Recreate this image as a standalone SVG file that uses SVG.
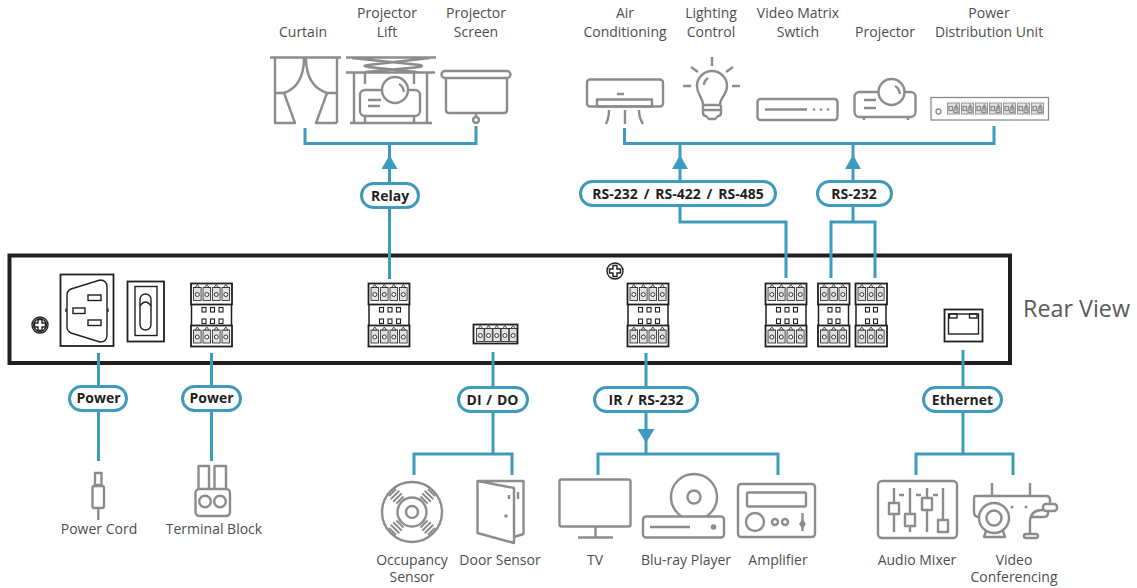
<svg xmlns="http://www.w3.org/2000/svg" xmlns:xlink="http://www.w3.org/1999/xlink" width="1137" height="588" viewBox="0 0 1137 588">
<style>
text{font-family:"Open Sans","Noto Sans","Liberation Sans",sans-serif}
.l{font-size:14px;fill:#4d4d4f;text-anchor:middle}
.b{font-size:14px;font-weight:700;fill:#231f20;text-anchor:middle}
.w{fill:none;stroke:#3f9bbd;stroke-width:3}
.p{fill:#fff;stroke:#3f9bbd;stroke-width:3}
.a{fill:#3f9bbd}
.i,.i *{fill:none;stroke:#8c8c8f;stroke-width:2.4;stroke-linejoin:round}
.i .f{fill:#fff}
.i .d{fill:#8c8c8f;stroke:none}
.k{fill:none;stroke:#231f20;stroke-width:1.4}
.kw{fill:#fff;stroke:#231f20;stroke-width:1.5}
.t{fill:#fff;stroke:#231f20;stroke-width:1.8}
.c{fill:#e2e2e2;stroke:#231f20;stroke-width:.8}
.o{fill:#fff;stroke:#231f20;stroke-width:.9}
.s{fill:#fff;stroke:#231f20;stroke-width:1.1}
.q{fill:none;stroke:#8c8c8f;stroke-width:1.3}
.qf{fill:#e4e4e4;stroke:#8c8c8f;stroke-width:.9}
</style>
<defs>
<g id="cell"><rect class="c" x="0" y="5" width="7.6" height="13"/><path class="c" d="M1.5 5 L3.8 2 L6.1 5Z"/><circle class="o" cx="3.8" cy="12" r="2"/></g>
<g id="tb4">
<rect class="kw" x="1.5" y="20" width="40" height="24"/>
<rect class="t" x="1" y="1" width="41" height="21"/><rect class="t" x="1" y="43" width="41" height="21"/>
<use xlink:href="#cell" x="3.5" y="0"/><use xlink:href="#cell" x="13" y="0"/><use xlink:href="#cell" x="22.5" y="0"/><use xlink:href="#cell" x="32" y="0"/>
<use xlink:href="#cell" x="3.5" y="42.5"/><use xlink:href="#cell" x="13" y="42.5"/><use xlink:href="#cell" x="22.5" y="42.5"/><use xlink:href="#cell" x="32" y="42.5"/>
<rect class="s" x="12" y="25" width="4" height="4.5"/><rect class="s" x="20.5" y="25" width="4" height="4.5"/><rect class="s" x="29" y="25" width="4" height="4.5"/>
<rect class="s" x="12" y="36.500" width="4" height="4.500"/><rect class="s" x="20.500" y="36.500" width="4" height="4.500"/><rect class="s" x="29" y="36.500" width="4" height="4.500"/>
</g>
<g id="tb3">
<rect class="kw" x="1.5" y="20" width="30" height="24"/>
<rect class="t" x="1" y="1" width="31.500" height="21"/><rect class="t" x="1" y="43" width="31.500" height="21"/>
<use xlink:href="#cell" x="3.500" y="0"/><use xlink:href="#cell" x="12.800" y="0"/><use xlink:href="#cell" x="22" y="0"/>
<use xlink:href="#cell" x="3.500" y="42.500"/><use xlink:href="#cell" x="12.800" y="42.500"/><use xlink:href="#cell" x="22" y="42.500"/>
<rect class="s" x="11" y="25" width="4" height="4.500"/><rect class="s" x="19" y="25" width="4" height="4.500"/>
<rect class="s" x="11" y="36.500" width="4" height="4.500"/><rect class="s" x="19" y="36.500" width="4" height="4.500"/>
</g>
<g id="screw"><circle class="k" r="8" fill="#fff"/><path class="k" stroke-width="1" d="M-2-5.500H2V-2H5.500V2H2V5.500H-2V2H-5.500V-2H-2Z"/></g>
<g id="outlet"><rect class="qf" x="0" y="0" width="12" height="11"/><rect class="q" x="1.500" y="3.500" width="3.500" height="4" stroke-width="1"/><path class="q" d="M7 5 L8.800 1.800 L10.600 5Z" stroke-width="1"/><rect class="q" x="6.500" y="7" width="4" height="2.500" stroke-width="1"/></g>
<g id="vent"><path d="M-5 17H5M-6 20.500H6M-6 24H6M-5 27.500H5" stroke-width="2"/></g>
</defs>

<g id="chassis">
<rect x="9.500" y="255.500" width="1000.500" height="107.500" fill="none" stroke="#231f20" stroke-width="4"/>
<text x="1076.500" y="317" font-size="23.300" fill="#58595b" text-anchor="middle">Rear View</text>
<use xlink:href="#screw" x="40" y="325"/>
<circle class="k" cx="40" cy="325" r="6.300" stroke-width="1"/>
<use xlink:href="#screw" x="615" y="271"/>
</g>
<g id="iec-inlet">
<rect class="t" x="60.500" y="274.500" width="53" height="71.500"/>
<path class="k" d="M71 289 L100 280 Q107 280 107 287 V335 Q107 342 100 342 L71 333 Q67 331 67 327 V295 Q67 291 71 289Z"/>
<rect class="k" x="88" y="295" width="13" height="5.500"/><rect class="k" x="73" y="308" width="12" height="5.500"/><rect class="k" x="88" y="320" width="13" height="5.500"/>
<path class="k" d="M66 308.500V312M108 308.500V312" stroke-width="2"/>
</g>
<g id="power-switch">
<rect class="t" x="127.500" y="281.500" width="36.500" height="60"/>
<rect class="k" x="135" y="286.500" width="22" height="49"/>
<rect class="k" x="140" y="294" width="11" height="36" rx="5.500"/>
<path class="k" d="M140 306 Q145.500 298 151 306"/>
</g>
<use id="tb-power" xlink:href="#tb4" x="190" y="282.500"/>
<use id="tb-relay" xlink:href="#tb4" x="367.500" y="282.500"/>
<use id="tb-ir" xlink:href="#tb4" x="626.500" y="282.500"/>
<use id="tb-serial" xlink:href="#tb4" x="764.500" y="282.500"/>
<use id="tb-rs232a" xlink:href="#tb3" x="817" y="282.500"/>
<use id="tb-rs232b" xlink:href="#tb3" x="854.500" y="282.500"/>
<g id="tb-dido">
<rect class="t" x="473.500" y="324.500" width="44" height="19"/>
<use xlink:href="#cell" x="476.500" y="323.500"/><use xlink:href="#cell" x="484.700" y="323.500"/><use xlink:href="#cell" x="492.900" y="323.500"/><use xlink:href="#cell" x="501.100" y="323.500"/><use xlink:href="#cell" x="509.300" y="323.500"/>
</g>
<g id="rj45">
<rect class="t" x="944.500" y="309.500" width="38" height="32"/>
<rect class="k" x="948.500" y="314" width="30" height="20" stroke="#555"/>
<rect class="k" x="949.500" y="314" width="7.500" height="4"/><rect class="k" x="969.500" y="314" width="7.500" height="4"/>
</g>

<g id="connectors">
<path class="w" d="M305 128V143.500H476V126M389.500 143.500V279"/>
<path class="w" d="M624.500 128V143.500H994V126M680 143.500V222H786V278M853 143.500V222M831 278V222H875V278"/>
<path class="w" d="M98.500 353V461M211.500 353V461"/>
<path class="w" d="M493 352V454M414 475V454H512V475"/>
<path class="w" d="M646 353V454M598 475V454H778V475"/>
<path class="w" d="M963 350V454M916 475V454H1013V475"/>
<path class="a" d="M389.500 155L397.500 169H381.500Z"/><path class="a" d="M680 155L688 169H672Z"/><path class="a" d="M853 155L861 169H845Z"/><path class="a" d="M646 443L637.500 429H654.500Z"/>
</g>

<g id="pill-relay"><rect class="p" x="361.500" y="183.500" width="57" height="24" rx="12"/><text class="b" x="390" y="200.500">Relay</text></g>
<g id="pill-rs-multi"><rect class="p" x="580.500" y="181.500" width="195" height="24" rx="12"/><text class="b" x="678" y="198.500" word-spacing="2.200">RS-232 / RS-422 / RS-485</text></g>
<g id="pill-rs232"><rect class="p" x="817.500" y="181.500" width="74" height="24" rx="12"/><text class="b" x="854" y="198.500">RS-232</text></g>
<g id="pill-power1"><rect class="p" x="69.500" y="386.500" width="57" height="24" rx="12"/><text class="b" x="98.500" y="403">Power</text></g>
<g id="pill-power2"><rect class="p" x="182.500" y="386.500" width="58" height="24" rx="12"/><text class="b" x="211.500" y="403">Power</text></g>
<g id="pill-dido"><rect class="p" x="458.500" y="387.500" width="69" height="24" rx="12"/><text class="b" x="492.500" y="405" word-spacing="1.200">DI / DO</text></g>
<g id="pill-ir"><rect class="p" x="594.500" y="387.500" width="103" height="24" rx="12"/><text class="b" x="646" y="405" word-spacing="1.200">IR / RS-232</text></g>
<g id="pill-ethernet"><rect class="p" x="923.500" y="387.500" width="78" height="24" rx="12"/><text class="b" x="962.500" y="405">Ethernet</text></g>

<g id="curtain"><text class="l" x="303" y="37">Curtain</text><g class="i">
<path d="M270 57.500H341M275 58V123M337 58V123M274 123H295L284 93H275M337 123H316L327 93H337M304 58Q304 86 284 93M306 58Q306 86 327 93"/></g></g>
<g id="projector-lift"><text class="l" x="387" y="18">Projector</text><text class="l" x="387" y="37">Lift</text><g class="i">
<path d="M346 57.500H436M352 58L420 65Q424 66 420 67L365 72M430 58L368 65Q361 66 368 67L417 72M346 72.500H435M354 72V123M427 72V123M350 123H432M365 72V84M414 72V84M365 116V123M414 116V123"/>
<rect x="360" y="90" width="60" height="26" rx="5"/><circle class="f" cx="395" cy="90" r="13"/><path d="M399 84Q403 86 404 92"/><path d="M368 100H381M368 106H380"/></g></g>
<g id="projector-screen"><text class="l" x="476" y="18">Projector</text><text class="l" x="476" y="37">Screen</text><g class="i">
<rect x="441.500" y="71" width="69" height="7" rx="3.500"/><path d="M446 78V110Q446 113 449 113H504Q507 113 507 110V78"/><circle cx="476" cy="120" r="3"/><path d="M476 113V117"/></g></g>
<g id="air-conditioning"><text class="l" x="625" y="18">Air</text><text class="l" x="625" y="37">Conditioning</text><g class="i">
<rect x="587" y="79.500" width="76" height="27" rx="3"/><rect x="597" y="99.500" width="55" height="7"/><path d="M617 94H624M609 110Q609 118 606 124M625 110V124M639 110Q639 118 643 124"/></g></g>
<g id="lighting-control"><text class="l" x="711" y="18">Lighting</text><text class="l" x="711" y="37">Control</text><g class="i">
<path d="M712 57V66M691 67L698 72M733 67L726 72M683 86H691M732 86H740"/><path d="M703 105C703 97 697 95 697 86A15 15 0 1 1 727 86C727 95 720 97 720 105Z"/><path d="M704 85Q704 81 708 78M703 105V113Q703 116 706 116L709 119H715L718 116Q721 116 721 113V105M703 110H721"/></g></g>
<g id="video-matrix-switch"><text class="l" x="798" y="18">Video Matrix</text><text class="l" x="798" y="37">Swtich</text><g class="i">
<rect x="757.500" y="99" width="80" height="21" rx="3"/><path d="M765 109.500H807"/><circle class="d" cx="814" cy="109.500" r="1.300"/><circle class="d" cx="821" cy="109.500" r="1.300"/><circle class="d" cx="828" cy="109.500" r="1.300"/></g></g>
<g id="projector"><text class="l" x="885" y="37">Projector</text><g class="i">
<rect x="854.500" y="92" width="61" height="25" rx="5"/><circle class="f" cx="891.500" cy="92" r="13"/><path d="M895 86Q899 88 900 94M864 100H876M864 108H876M864 117V120M908 117V120"/></g></g>
<g id="power-distribution-unit"><text class="l" x="989" y="18">Power</text><text class="l" x="989" y="37">Distribution Unit</text>
<rect class="q" x="931" y="97.500" width="117.500" height="22.500" fill="#f3f3f3" stroke-width="1.800"/><circle class="q" cx="938.500" cy="111.500" r="2.500"/>
<use xlink:href="#outlet" x="947.500" y="103"/><use xlink:href="#outlet" x="961.500" y="103"/><use xlink:href="#outlet" x="975.500" y="103"/><use xlink:href="#outlet" x="989.500" y="103"/><use xlink:href="#outlet" x="1003.500" y="103"/><use xlink:href="#outlet" x="1017.500" y="103"/><use xlink:href="#outlet" x="1031.500" y="103"/></g>

<g id="power-cord"><text class="l" x="99" y="534">Power Cord</text><g class="i">
<rect x="95" y="473" width="6.500" height="12"/><rect x="92.500" y="486" width="11.500" height="22" rx="2"/><path d="M98.300 508V520"/></g></g>
<g id="terminal-block"><text class="l" x="214" y="534">Terminal Block</text><g class="i">
<path d="M198.500 489V466H209V489M214.500 489V466H226V489"/><rect x="195.500" y="489" width="34.500" height="27" rx="4"/><circle cx="205" cy="501.500" r="5.800"/><circle cx="220" cy="501.500" r="5.800"/></g></g>
<g id="occupancy-sensor"><text class="l" x="412" y="565">Occupancy</text><text class="l" x="412" y="582">Sensor</text><g class="i">
<circle cx="412" cy="512" r="30"/><circle cx="412" cy="512" r="14.500"/><circle cx="412" cy="512" r="6"/>
<use xlink:href="#vent" transform="translate(412 512) rotate(45)"/><use xlink:href="#vent" transform="translate(412 512) rotate(135)"/><use xlink:href="#vent" transform="translate(412 512) rotate(225)"/><use xlink:href="#vent" transform="translate(412 512) rotate(315)"/></g></g>
<g id="door-sensor"><text class="l" x="500" y="565">Door Sensor</text><g class="i">
<path d="M477.500 481H523.500V534L514 537M477.500 481L514 488V543L477.500 533Z"/><path d="M518 492V499M509 495V499"/><circle class="d" cx="506" cy="516" r="1.800"/></g></g>
<g id="tv"><text class="l" x="595" y="565">TV</text><g class="i">
<rect x="559.500" y="479.500" width="71" height="47" rx="2"/><path d="M595.500 527V537M578 537.500H613"/></g></g>
<g id="blu-ray-player"><text class="l" x="686" y="565">Blu-ray Player</text><g class="i">
<circle cx="694" cy="497" r="23"/><circle cx="694" cy="497" r="6.500"/><rect class="f" x="643" y="516.500" width="81" height="21" rx="3"/><path d="M650 527H690"/><circle class="d" cx="713.500" cy="527" r="2.800"/></g></g>
<g id="amplifier"><text class="l" x="778" y="565">Amplifier</text><g class="i">
<rect x="738" y="484" width="77" height="53" rx="3"/><rect x="747" y="492.500" width="59" height="14" rx="1.500"/><circle cx="755" cy="522" r="9"/><circle cx="775" cy="522" r="3"/><circle cx="785" cy="522" r="3"/><path d="M802.500 513V531"/><path class="d" d="M802.500 519L806 524L802.500 529L799 524Z"/></g></g>
<g id="audio-mixer"><text class="l" x="917" y="565">Audio Mixer</text><g class="i">
<rect x="878" y="481" width="79" height="57" rx="4"/><path d="M894 488V532M910 488V532M927 488V532M943 488V532M899 495H904M916 495H921M933 495H938"/>
<rect class="f" x="889" y="503" width="10" height="11"/><rect class="f" x="905" y="514" width="10" height="12"/><rect class="f" x="922" y="498" width="10" height="12"/><rect class="f" x="938" y="520" width="10" height="12"/></g></g>
<g id="video-conferencing"><text class="l" x="1014" y="565">Video</text><text class="l" x="1014" y="582">Conferencing</text><g class="i">
<path d="M992 483V496M1030 483V496"/><path d="M975 496H1046Q1050 496 1050 500V504M1048 511V513Q1048 517 1044 517H1030M975 496Q974 496 974 500V512Q974 517 979 517"/>
<circle class="f" cx="994" cy="518" r="15"/><circle cx="994" cy="518" r="7.500"/><path d="M986 531L984 537H1005L1003 531"/>
<circle class="d" cx="1012" cy="507" r="1.500"/><circle class="d" cx="1026" cy="507" r="1.500"/>
<rect class="f" x="1043" y="504" width="14" height="7" rx="3"/><path d="M1043 510Q1030 510 1030 522V534"/><rect x="1024" y="534" width="14" height="4" rx="2"/></g></g>
</svg>
